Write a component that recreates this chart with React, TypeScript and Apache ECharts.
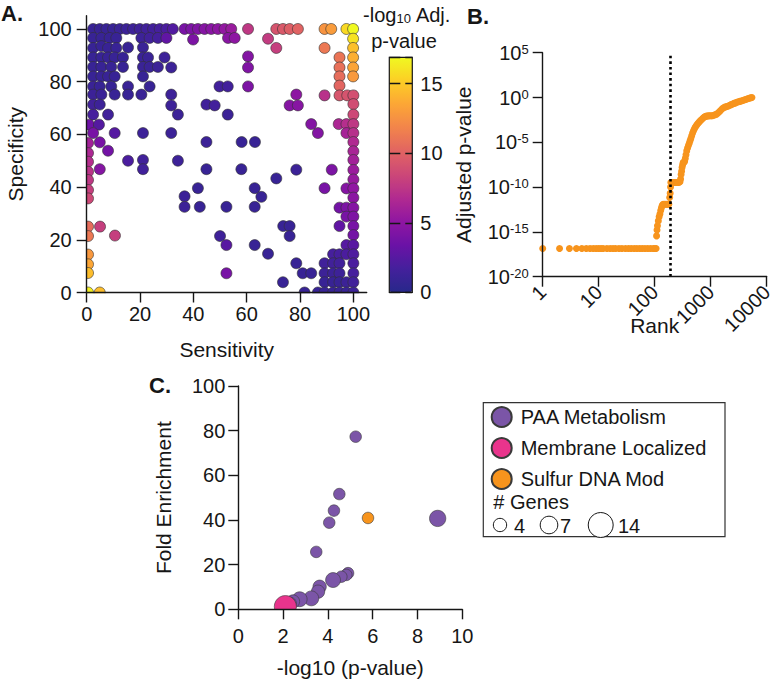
import React, { useEffect, useRef } from "react";
import * as echarts from "echarts";

const FONT = "'Liberation Sans', Arial, Helvetica, sans-serif";
const INK = "#161616";

// ---------- Panel A ----------
const sensSpecTicks = [0, 20, 40, 60, 80, 100];
const colorbarTicks = [0, 5, 10, 15];
const colorbarMax = 16.9;
const plasmaStops = [
  "#27288a", "#44209c", "#6a12a6", "#8f16a2", "#b12a90", "#cc4778",
  "#e16462", "#f2844b", "#fca636", "#fcce25", "#f0f921",
];
// [sensitivity, specificity, -log10 adj. p-value]
const panelA: [number, number, number][] = [
  [2.4,100,1.0],[4.9,100,1.0],[7.4,100,1.0],[9.9,100,1.0],[12.4,100,1.1],[14.9,100,1.2],[17.4,100,1.3],[19.9,100,1.4],[22.4,100,1.5],[24.9,100,1.6],[27.4,100,1.8],[29.9,100,2.0],[32.3,100,2.3],
  [36.7,100,4.0],[39.2,100,4.2],[41.7,100,4.4],[44.2,100,4.6],[46.7,100,4.8],[49.2,100,5.0],[51.7,100,5.2],[54.2,100,5.5],
  [60.5,100,7.6],[71.1,100,9.2],[73.6,100,9.5],[76.1,100,9.8],[79.2,100,10.1],[89.2,100,12.6],[91.7,100,13.0],[97.4,100,15.6],[99.9,100,16.9],
  [2.4,96.6,1.0],[5.5,96.6,1.0],[8.6,96.6,1.0],[11.1,96.6,1.0],[20.5,96.6,1.3],[23.6,96.6,1.5],[26.7,96.6,1.7],[29.9,96.6,3.0],[39.9,96,4.2],[53,96.6,4.8],[55.5,96.6,5.0],[68,96.3,7.8],[99.9,96.3,16.0],
  [2.4,92.8,1.0],[5.5,93.5,1.0],[8,92.8,1.0],[11.1,92.8,1.0],[15.5,93,1.0],[21.1,93,1.1],[71.1,92.8,8.0],[89.2,92.8,11.2],[99.9,92.8,14.6],
  [2.4,89.2,1.0],[5.5,89.2,1.0],[8,89.2,1.0],[10.5,89.2,1.0],[13.6,89.2,1.0],[21.1,89.2,1.1],[23,89.2,1.1],[29.2,89.2,1.3],[60.5,89.6,4.5],[94.8,89.2,11.0],[99.9,89.2,13.9],
  [2.4,85.6,1.0],[5.5,85.6,1.0],[9.2,85.6,1.0],[13.6,85.6,1.0],[21.1,85.6,1.1],[23.6,85.6,1.1],[26.7,85.6,1.2],[31.7,85.4,1.2],[60.5,85.4,4.4],[94.8,85.4,10.8],[99.9,85.4,13.4],
  [2.4,82,1.0],[5.5,82,1.0],[8,82,1.0],[10.5,82,1.0],[21.1,82,1.0],[94.8,82,10.6],[99.9,82,12.9],
  [2.4,78.2,1.1],[4.9,78.2,1.0],[9.2,78.2,1.0],[15.5,78.2,1.1],[23.6,78.2,1.0],[49.8,78.2,1.6],[52.9,78.2,1.6],[60.5,78.2,4.2],[94.8,78.5,10.2],
  [2.4,75.1,1.2],[5.5,75.1,1.1],[10.5,75.1,1.0],[15.5,75.1,1.0],[20.5,75.1,1.1],[31.7,75.1,1.3],[78.6,75.1,5.0],[89.2,74.8,7.2],[94.8,74.8,9.3],[97.7,74.8,9.2],[100,74.8,9.0],
  [2.4,71.3,1.5],[4.9,71.3,1.3],[31.7,71,1.3],[44.9,71.3,1.5],[48,71,1.6],[76.1,71,4.6],[79.2,71,4.7],[100,71.5,8.8],
  [2.4,67.5,1.8],[8,67.5,1.5],[34.2,67.5,1.2],[52.9,67.5,1.2],[100,67.5,8.5],
  [0.8,63.7,3.5],[4.6,63.7,2.4],[84.2,63.9,4.5],[94.5,63.9,6.5],[97.4,63.9,7.0],[100,63.9,7.6],
  [2.4,60.5,4.0],[10.5,60.5,2.5],[21.1,60.5,1.3],[31.7,60.5,1.2],[86.7,60.5,4.5],[97.4,60.5,6.2],[100,60.5,7.1],
  [0.5,56.7,6.0],[4.9,57,4.0],[44.9,57.1,1.2],[58.1,57.1,1.0],[63.1,57.1,1.0],[100,57.1,6.7],
  [0.5,52.9,6.5],[8,53.8,3.8],[100,53.6,6.3],
  [0.5,49.6,7.0],[15.5,50,2.0],[21.1,50.3,1.5],[34.2,50,1.3],[100,50.3,6.0],
  [0.5,45.8,7.3],[4.9,46.8,4.6],[21.1,46.8,1.5],[44.9,46.8,1.0],[58,46.8,1.0],[78.6,46.6,1.2],[91.9,46.6,4.2],[100,46.5,5.6],
  [0.5,42.7,7.6],[71.1,43.3,1.0],[100,42.9,5.4],
  [0.5,38.9,8.0],[41.7,39.6,1.0],[63,39.6,1.0],[89.2,39.6,4.0],[97.4,39.5,4.6],[100,39.5,5.1],
  [0.5,35.7,8.5],[36.7,36.5,1.2],[65.5,36.3,1.0],[100,36,4.9],
  [36.7,32.5,1.2],[42.4,32.5,1.0],[52.4,32.5,1.0],[63,32.5,1.0],[94.8,32.2,3.8],[97.4,32.2,4.2],[100,32.2,4.6],
  [97.4,28.8,4.0],[100,28.8,4.3],
  [0.5,25,10.6],[5,25,8.0],[73.7,25.2,1.0],[76.1,25.2,1.0],[94.8,25.2,3.0],[100,25.2,4.0],
  [0.5,21.4,11.2],[10.6,21.6,8.0],[50,21.4,1.4],[76.1,21.4,1.0],[100,21.8,3.8],
  [52.4,18,2.6],[63,18,1.0],[97.4,18,2.5],[100,18,2.6],
  [0.5,14.4,12.8],[68,14.7,1.0],[92.4,14.5,1.8],[94.8,14.5,1.8],[97.4,14.5,2.0],[100,14.5,2.2],
  [0.5,10.7,13.5],[78.6,11.1,1.0],[89.2,11.1,1.5],[92.4,11.1,1.5],[94.8,11.1,1.5],[100,11.1,2.0],
  [0.5,7.4,14.5],[52.4,7.3,4.0],[81,7.3,1.0],[84.2,7.3,1.0],[89.2,7.3,1.2],[92.4,7.3,1.2],[94.8,7.3,1.3],[100,7.3,1.8],
  [73.6,3.9,1.0],[89.2,3.9,1.0],[92.4,3.9,1.0],[94.8,3.9,1.0],[97.4,3.9,1.2],[100,3.9,1.5],
  [0.5,0,16.5],[4.9,0,14.5],[81.7,0,1.0],[86.7,0,1.0],[89.2,0,1.0],[92.4,0,1.0],[94.8,0,1.0],[97.4,0,1.0],[100,0,1.3],
];

// ---------- Panel B ----------
const rankCutoff = 193;
// [rank, adjusted p-value]
const panelB: [number, number][] = [
  [1,1.4e-17],[2,1.4e-17],[3,1.4e-17],[4,1.4e-17],[5,1.4e-17],[6,1.4e-17],[7,1.4e-17],[8,1.4e-17],[9,1.4e-17],[10,1.4e-17],
  [11,1.4e-17],[12,1.4e-17],[14,1.4e-17],[16,1.4e-17],[18,1.4e-17],[20,1.4e-17],[23,1.4e-17],[26,1.4e-17],[30,1.4e-17],[34,1.4e-17],
  [38,1.4e-17],[43,1.4e-17],[48,1.4e-17],[54,1.4e-17],[60,1.4e-17],[67,1.4e-17],[75,1.4e-17],[84,1.4e-17],[94,1.4e-17],[101,1.4e-17],[106,1.4e-17],
  [108,3.6e-16],[110,1.6e-15],[112,4.8e-15],[116,1.7e-14],[120,5e-14],[124,1e-13],[128,2.5e-13],[132,5e-13],[136,9e-13],
  [141,1.2e-12],[148,1.2e-12],[155,1.2e-12],[163,1.2e-12],[171,1.2e-12],[179,1.25e-12],[185,6.9e-12],[189,2e-11],[192,1e-10],
  [194,3.2e-10],[200,3.2e-10],[208,3.2e-10],[217,3.2e-10],[227,3.2e-10],[238,3.2e-10],[249,3.2e-10],[261,3.3e-10],[273,3.4e-10],
  [283,4e-10],[290,7.8e-10],[296,2.5e-9],[302,6e-9],[308,1.5e-8],[315,3e-8],[322,5.5e-8],[332,6e-8],[342,7e-8],[352,1.6e-7],
  [362,4e-7],[373,1.1e-6],[386,2.3e-6],[400,4.5e-6],[414,8e-6],[428,1.5e-5],[442,2.6e-5],[458,5.4e-5],[475,1.1e-4],[493,1.9e-4],
  [512,3.2e-4],[532,5e-4],[555,7.5e-4],[580,1.1e-3],[607,1.5e-3],[635,2.1e-3],[665,2.9e-3],[697,3.8e-3],[732,5.2e-3],[770,6.6e-3],
  [810,7.8e-3],[853,8.6e-3],[900,8.9e-3],[950,9e-3],[1005,9e-3],[1065,9.3e-3],[1130,1.05e-2],[1200,1.2e-2],[1275,1.4e-2],[1355,1.9e-2],
  [1440,2.7e-2],[1530,4e-2],[1625,5.8e-2],[1725,7.6e-2],[1830,9e-2],[1945,0.1],[2065,0.115],[2190,0.135],[2320,0.16],[2460,0.185],
  [2610,0.22],[2770,0.25],[2940,0.29],[3120,0.33],[3310,0.37],[3510,0.41],[3720,0.46],[3950,0.52],[4190,0.6],[4440,0.67],
  [4710,0.76],[4990,0.86],[5250,0.95],[5450,1.0],
];

// ---------- Panel C ----------
// [-log10 p-value, fold enrichment, # genes]
const paaMetabolism: [number, number, number][] = [
  [5.24,77.3,3],[4.51,51.6,3],[4.27,44.2,3],[4.06,38.8,3],[8.9,40.7,6],[3.48,25.7,3],
  [4.9,16.2,3],[4.82,15.4,3],[4.6,14.6,3],[4.23,13.1,5],[3.63,10.1,4],[3.56,7.9,4],
  [3.26,4.9,5],[2.74,4.5,5],[2.44,3.5,4],[2.3,2.5,4],
];
const membraneLocalized: [number, number, number][] = [[2.1, 1.2, 11]];
const sulfurDnaMod: [number, number, number][] = [[5.79, 40.9, 3]];
const categoryNames = ["PAA Metabolism", "Membrane Localized", "Sulfur DNA Mod"];
const categoryColors = ["#7b55a7", "#e9348c", "#f7941d"];
const geneLegend = [4, 7, 14];
const geneSize = (g: number) => 6.67 * Math.sqrt(g);

const lineStyle = { color: INK, width: 1.4 };
const tickLabel = { color: INK, fontSize: 20, fontFamily: FONT };
const nameStyle = { color: INK, fontSize: 21, fontFamily: FONT };

function buildOption() {
  const cSeries = [paaMetabolism, membraneLocalized, sulfurDnaMod].map((d, i) => ({
    type: "scatter",
    name: categoryNames[i],
    xAxisIndex: 2,
    yAxisIndex: 2,
    data: d,
    clip: false,
    symbolSize: (v: number[]) => geneSize(v[2]),
    itemStyle: { color: categoryColors[i], borderColor: "#3a3a3a", borderWidth: 0.6, opacity: 1 },
    z: 2,
  }));

  const geneX = [500, 549, 600.7];
  const geneLabelX = [514, 560, 618];

  return {
    animation: false,
    backgroundColor: "#ffffff",
    textStyle: { fontFamily: FONT },
    grid: [
      { left: 86.7, top: 15.8, width: 280, height: 276.7, outerBoundsMode: "none" },
      { left: 542.7, top: 52.7, width: 224, height: 224, outerBoundsMode: "none" },
      { left: 238.3, top: 386, width: 224, height: 223.3, outerBoundsMode: "none" },
      { left: 389.3, top: 57.3, width: 23, height: 235, outerBoundsMode: "none" },
    ],
    xAxis: [
      {
        gridIndex: 0, type: "value", min: 0, max: 105, interval: 20, z: 5,
        axisLine: { lineStyle }, splitLine: { show: false },
        axisTick: { length: 10, lineStyle, customValues: sensSpecTicks },
        axisLabel: { ...tickLabel, margin: 11, customValues: sensSpecTicks },
        name: "Sensitivity", nameLocation: "middle", nameGap: 46, nameMoveOverlap: false, nameTextStyle: nameStyle,
      },
      {
        gridIndex: 1, type: "log", logBase: 10, min: 1, max: 10000, z: 5,
        axisLine: { lineStyle }, splitLine: { show: false }, minorTick: { show: false },
        axisTick: { length: 10, lineStyle },
        axisLabel: { ...tickLabel, margin: 12, rotate: 45, formatter: (v: number) => String(Math.round(v)) },
        name: "Rank", nameLocation: "middle", nameGap: 38, nameMoveOverlap: false, nameTextStyle: nameStyle,
      },
      {
        gridIndex: 2, type: "value", min: 0, max: 10, interval: 2, z: 5,
        axisLine: { lineStyle }, splitLine: { show: false },
        axisTick: { length: 10, lineStyle },
        axisLabel: { ...tickLabel, margin: 17 },
        name: "-log10 (p-value)", nameLocation: "middle", nameGap: 48, nameMoveOverlap: false, nameTextStyle: nameStyle,
      },
      { gridIndex: 3, type: "value", min: 0, max: 1, show: false },
    ],
    yAxis: [
      {
        gridIndex: 0, type: "value", min: 0, max: 105, interval: 20, z: 5,
        axisLine: { lineStyle }, splitLine: { show: false },
        axisTick: { length: 10, lineStyle, customValues: sensSpecTicks },
        axisLabel: { ...tickLabel, margin: 15, customValues: sensSpecTicks },
        name: "Specificity", nameLocation: "middle", nameGap: 61, nameMoveOverlap: false, nameTextStyle: nameStyle,
      },
      {
        gridIndex: 1, type: "log", logBase: 10, min: 1e-20, max: 1e5, interval: 5, z: 5,
        axisLine: { lineStyle }, splitLine: { show: false }, minorTick: { show: false },
        axisTick: { length: 10, lineStyle },
        axisLabel: {
          ...tickLabel, margin: 14,
          formatter: (v: number) => `{b|10}{s|${Math.round(Math.log10(v))}}`,
          rich: {
            b: { fontSize: 20, fontFamily: FONT, color: INK, verticalAlign: "bottom", lineHeight: 20 },
            s: { fontSize: 13, fontFamily: FONT, color: INK, verticalAlign: "top", lineHeight: 13, padding: [0, 0, 12, 0] },
          },
        },
        name: "Adjusted p-value", nameLocation: "middle", nameGap: 69, nameMoveOverlap: false, nameTextStyle: nameStyle,
      },
      {
        gridIndex: 2, type: "value", min: 0, max: 100, interval: 20, z: 5,
        axisLine: { lineStyle }, splitLine: { show: false },
        axisTick: { length: 10, lineStyle },
        axisLabel: { ...tickLabel, margin: 13 },
        name: "Fold Enrichment", nameLocation: "middle", nameGap: 64, nameMoveOverlap: false, nameTextStyle: nameStyle,
      },
      {
        gridIndex: 3, type: "value", min: 0, max: colorbarMax, interval: 5, position: "right", z: 10,
        axisLine: { show: false }, axisTick: { show: false },
        splitLine: { show: true, lineStyle: { color: INK, width: 1.3, type: [11, 5] } },
        axisLabel: { ...tickLabel, margin: 8, customValues: colorbarTicks },
      },
    ],
    visualMap: [
      {
        type: "continuous", min: 0, max: colorbarMax, dimension: 2, seriesIndex: 0,
        inRange: { color: plasmaStops }, calculable: false, show: true, orient: "vertical",
        left: 389.3, top: 57.3, itemWidth: 23, itemHeight: 235, padding: 0, text: undefined,
        hoverLink: false, z: 4,
      },
    ],
    legend: {
      data: categoryNames, orient: "vertical", left: 490.7, top: 406, itemWidth: 20, itemHeight: 20,
      itemGap: 9, icon: "circle", padding: 0, selectedMode: false,
      textStyle: { fontSize: 20, fontFamily: FONT, color: INK, padding: [0, 0, 0, 4] },
    },
    series: [
      {
        type: "scatter", xAxisIndex: 0, yAxisIndex: 0, data: panelA, symbolSize: 11, clip: false,
        itemStyle: { borderColor: "#333", borderWidth: 0.6, opacity: 1 }, z: 2,
      },
      {
        type: "scatter", xAxisIndex: 1, yAxisIndex: 1, data: panelB, symbolSize: 7, clip: false,
        itemStyle: { color: "#f7941d", opacity: 1 }, z: 2,
        markLine: {
          silent: true, symbol: ["none", "none"], label: { show: false },
          lineStyle: { color: "#000", width: 2.6, type: [2.6, 3] },
          data: [{ xAxis: rankCutoff }],
        },
      },
      ...cSeries,
    ],
    graphic: [
      // masks that clip markers at the axis lines
      { type: "rect", z: 3, silent: true, shape: { x: 74, y: 10, width: 12.2, height: 292 }, style: { fill: "#fff" } },
      { type: "rect", z: 3, silent: true, shape: { x: 74, y: 293.2, width: 300, height: 9 }, style: { fill: "#fff" } },
      { type: "rect", z: 3, silent: true, shape: { x: 228, y: 610, width: 245, height: 13 }, style: { fill: "#fff" } },
      // colorbar outline
      { type: "rect", z: 11, silent: true, shape: { x: 389.3, y: 57.3, width: 23, height: 235 }, style: { fill: "none", stroke: INK, lineWidth: 1.2 } },
      // panel letters
      { type: "text", z: 12, x: 1, y: 13, style: { text: "A.", font: `bold 22px ${FONT}`, fill: INK, verticalAlign: "middle" } },
      { type: "text", z: 12, x: 467, y: 16, style: { text: "B.", font: `bold 22px ${FONT}`, fill: INK, verticalAlign: "middle" } },
      { type: "text", z: 12, x: 149, y: 385, style: { text: "C.", font: `bold 22px ${FONT}`, fill: INK, verticalAlign: "middle" } },
      // colorbar title
      {
        type: "text", z: 12, x: 407, y: 15,
        style: {
          text: "{a|-log}{s|10}{a| Adj.}", align: "center", verticalAlign: "middle", fill: INK,
          rich: {
            a: { fontSize: 20, fontFamily: FONT, fill: INK },
            s: { fontSize: 13, fontFamily: FONT, fill: INK, verticalAlign: "bottom" },
          },
        },
      },
      { type: "text", z: 12, x: 404, y: 41, style: { text: "p-value", font: `20px ${FONT}`, fill: INK, align: "center", verticalAlign: "middle" } },
      // legend box
      { type: "rect", z: 1, silent: true, shape: { x: 483.3, y: 402.7, width: 241.7, height: 134 }, style: { fill: "none", stroke: "#333", lineWidth: 1.2 } },
      { type: "text", z: 12, x: 493.3, y: 502, style: { text: "# Genes", font: `20px ${FONT}`, fill: INK, verticalAlign: "middle" } },
      ...geneLegend.map((g, i) => ({
        type: "circle", z: 12, silent: true,
        shape: { cx: geneX[i], cy: 525, r: geneSize(g) / 2 },
        style: { fill: "#fff", stroke: INK, lineWidth: 1 },
      })),
      ...geneLegend.map((g, i) => ({
        type: "text", z: 12, x: geneLabelX[i], y: 526,
        style: { text: String(g), font: `20px ${FONT}`, fill: INK, verticalAlign: "middle" },
      })),
    ],
  };
}

export default function App() {
  const ref = useRef<HTMLDivElement>(null);
  useEffect(() => {
    if (!ref.current) return;
    const chart = echarts.init(ref.current, null, { renderer: "svg" });
    chart.setOption(buildOption() as any);
    return () => chart.dispose();
  }, []);
  return (
    <div
      ref={ref}
      style={{ position: "absolute", left: 0, top: 0, width: 770, height: 682, background: "#fff" }}
    />
  );
}
